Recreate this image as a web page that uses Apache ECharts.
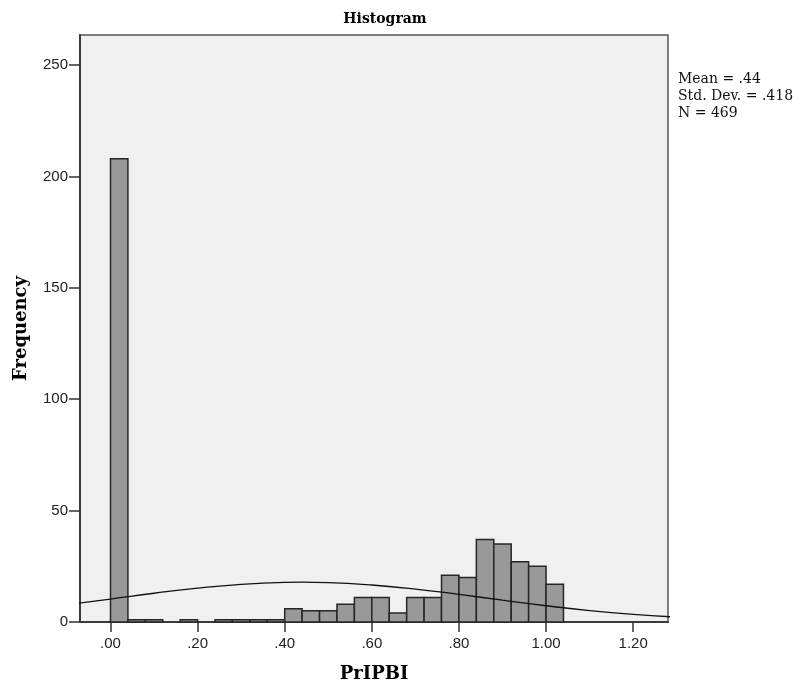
<!DOCTYPE html>
<html>
<head>
<meta charset="utf-8">
<title>Histogram</title>
<script src="https://cdn.jsdelivr.net/npm/echarts@6/dist/echarts.min.js"></script>
<style>
  html, body { margin: 0; padding: 0; background: #fff; }
  #main { width: 801px; height: 688px; }
</style>
</head>
<body>
<div id="main"></div>
<script>
// bin edges (width .04) and counts
var binStart = [0.00, 0.04, 0.08, 0.12, 0.16, 0.20, 0.24, 0.28, 0.32, 0.36, 0.40, 0.44, 0.48,
                0.52, 0.56, 0.60, 0.64, 0.68, 0.72, 0.76, 0.80, 0.84, 0.88, 0.92, 0.96, 1.00];
var binCount = [208, 1, 1, 0, 1, 0, 1, 1, 1, 1, 6, 5, 5,
                8, 11, 11, 4, 11, 11, 21, 20, 37, 35, 27, 25, 17];
var binWidth = 0.04;

// normal curve
var curveX = [-0.10, 0.00, 0.10, 0.20, 0.30, 0.40, 0.44, 0.50, 0.60, 0.70, 0.80, 0.90, 1.00, 1.10, 1.20, 1.30];
var curveY = [7.8, 10.3, 12.9, 15.2, 16.9, 17.8, 17.9, 17.7, 16.6, 14.8, 12.4, 9.8, 7.3, 5.1, 3.4, 2.2];

// tick labels
var xTicks = [0, 0.2, 0.4, 0.6, 0.8, 1.0, 1.2];
var xTickLabels = ['.00', '.20', '.40', '.60', '.80', '1.00', '1.20'];
var yTicks = [0, 50, 100, 150, 200, 250];

var myChart = echarts.init(document.getElementById('main'));

var barData = [];
for (var i = 0; i < binStart.length; i++) {
    if (binCount[i] > 0) {
        barData.push([binStart[i], binStart[i] + binWidth, binCount[i]]);
    }
}
var lineData = [];
for (var j = 0; j < curveX.length; j++) {
    lineData.push([curveX[j], curveY[j]]);
}

var serif = '"DejaVu Serif", "Liberation Serif", serif';
var sans = '"Liberation Sans", Arial, sans-serif';

var options = {
    backgroundColor: '#ffffff',
    animation: false,
    title: {
        text: 'Histogram',
        left: 380,
        top: 7,
        textAlign: 'center',
        textStyle: { fontFamily: serif, fontWeight: 'bold', fontSize: 14, color: '#000' }
    },
    grid: {
        left: 80, right: 133, top: 35, bottom: 66,
        outerBoundsMode: 'none',
        containLabel: false,
        show: true,
        backgroundColor: '#f0f0f0',
        borderColor: '#555',
        borderWidth: 1.5
    },
    xAxis: {
        type: 'value',
        min: -0.07,
        max: 1.28,
        name: 'PrIPBI',
        nameLocation: 'middle',
        nameGap: 43,
        nameMoveOverlap: false,
        nameTextStyle: { fontFamily: serif, fontWeight: 'bold', fontSize: 18, color: '#000' },
        splitLine: { show: false },
        axisLine: { onZero: false, lineStyle: { color: '#3a3a3a', width: 2 } },
        axisTick: { customValues: xTicks, length: 10, lineStyle: { color: '#333', width: 1.5 } },
        axisLabel: {
            customValues: xTicks,
            fontFamily: sans, fontSize: 15, color: '#222', margin: 14,
            formatter: function (v) {
                for (var k = 0; k < xTicks.length; k++) {
                    if (Math.abs(xTicks[k] - v) < 1e-6) return xTickLabels[k];
                }
                return '';
            }
        }
    },
    yAxis: {
        type: 'value',
        min: 0,
        max: 263.5,
        name: 'Frequency',
        nameLocation: 'middle',
        nameRotate: 90,
        nameGap: 50,
        nameMoveOverlap: false,
        nameTextStyle: { fontFamily: serif, fontWeight: 'bold', fontSize: 18, color: '#000' },
        splitLine: { show: false },
        axisLine: { show: true, onZero: false, lineStyle: { color: '#3a3a3a', width: 2 } },
        axisTick: { show: true, customValues: yTicks, length: 11, lineStyle: { color: '#333', width: 1.5 } },
        axisLabel: { customValues: yTicks, fontFamily: sans, fontSize: 15, color: '#222', margin: 12 }
    },
    graphic: [{
        type: 'text',
        left: 678,
        top: 71,
        style: {
            text: 'Mean = .44\nStd. Dev. = .418\nN = 469',
            font: '14px "DejaVu Serif", serif',
            lineHeight: 17,
            fill: '#111'
        }
    }],
    series: [{
        type: 'custom',
        data: barData,
        renderItem: function (params, api) {
            var p0 = api.coord([api.value(0), api.value(2)]);
            var p1 = api.coord([api.value(1), 0]);
            return {
                type: 'rect',
                shape: { x: p0[0], y: p0[1], width: p1[0] - p0[0], height: p1[1] - p0[1] },
                style: { fill: '#999999', stroke: '#262626', lineWidth: 1.5 }
            };
        },
        z: 2
    }, {
        type: 'line',
        data: lineData,
        smooth: true,
        showSymbol: false,
        clip: true,
        lineStyle: { color: '#111', width: 1.3 },
        z: 3
    }]
};

myChart.setOption(options, true);
</script>
</body>
</html>
